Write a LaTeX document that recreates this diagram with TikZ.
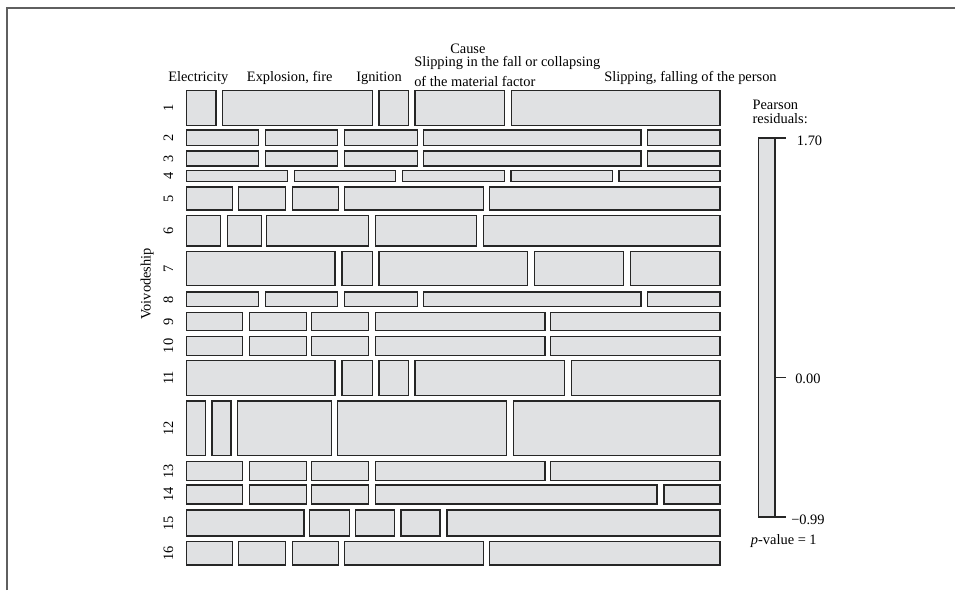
\documentclass[tikz,border=0pt]{standalone}
\usepackage{fontspec}
\setmainfont{Liberation Serif}
\usepackage{tikz}
\usetikzlibrary{positioning}
\definecolor{tilegray}{RGB}{224,225,227}
\definecolor{framegray}{RGB}{95,95,95}

\begin{document}
\begin{tikzpicture}[x=0.75pt,y=-0.75pt,font=\fontsize{10.8}{12}\selectfont]
\tikzstyle{tile}=[draw=black!85,fill=tilegray,line width=0.8pt]
\tikzstyle{lab}=[inner sep=0pt,anchor=base west]
\tikzstyle{rowlab}=[inner sep=0pt,anchor=base,rotate=90]
\tikzstyle{tick}=[draw=black!85,line width=0.8pt]
\useasboundingbox (0,0) rectangle (955,590);
\draw[framegray,line width=1pt] (7,590) -- (7,8) -- (955,8);
\foreach \ya/\yb/\cells in {
  90.7/125.7/{186.7/216,222.3/372.3,379/408.3,415/504.3,511.3/720},
  130/145.7/{186.7/258.7,265.3/337.3,344.3/417.3,423.3/641,647.7/720},
  151/166/{186.7/258.7,265.3/337.3,344.3/417.3,423.3/641,647.7/720},
  170.7/181.3/{186.7/287.7,294.3/395.7,402.3/504.3,511/612.3,619/720},
  187/210/{186.7/232.3,238.7/285.3,292.3/338.7,344.3/483.3,489.3/720},
  215.7/246/{186.7/220.7,227.3/261.3,266.7/368.7,375.3/476.7,483.3/720},
  251.7/285.7/{186.7/335,342/372.3,379/527.7,534.3/623.7,630.3/720},
  292/306.7/{186.7/258.7,265.3/337.3,344.3/417.3,423.3/641,647.7/720},
  312.3/330.7/{186.7/242.3,249.3/306.3,311.7/368.7,375.3/545,550.3/720},
  336.3/355.3/{186.7/242.3,249.3/306.3,311.7/368.7,375.3/545,550.3/720},
  360.7/395.3/{186.7/335,342/372.3,379/408.3,415/564.7,571.3/720},
  401/455.7/{186.7/205.3,212/231,237.3/331.7,337.3/506.7,513.3/720},
  461.7/480.7/{186.7/242.3,249.3/306.3,311.7/368.7,375.3/545,550.3/720},
  485/504/{186.7/242.3,249.3/306.3,311.7/368.7,375.3/657,664/720},
  510/536/{186.7/304,309.3/349.3,355.7/394.3,401/440,447/720},
  541.3/565/{186.7/232.3,238.7/285.3,292.3/338.7,344.3/483.3,489.3/720}}
  \foreach \xa/\xb in \cells
    \draw[tile] (\xa,\ya) rectangle (\xb,\yb);
\foreach \n/\y in {1/108.2,2/137.9,3/158.5,4/176,5/198.5,6/230.9,7/268.7,8/299.4,
  9/321.5,10/345.8,11/378,12/428.4,13/471.2,14/494.5,15/523,16/553.2}
  \node[rowlab] (row\n) at (173,\y) {\n};
\node[rowlab] (voiv) at (150.5,284) {Voivodeship};
\node[lab] (cause) at (450,53.3) {Cause};
\node[lab] (elec) at (168,81) {Electricity};
\node[lab] (expl) at (246.7,81) {Explosion, fire};
\node[lab] (ign) at (356,81) {Ignition};
\node[lab] (slipa) at (414,66) {Slipping in the fall or collapsing};
\node[lab] (slipb) at (414,86) {of the material factor};
\node[lab] (slipc) at (604,81) {Slipping, falling of the person};
\node[lab] (pears) at (752.3,109.3) {Pearson};
\node[lab] (resid) at (752.3,123.3) {residuals:};
\draw[tile] (758.7,138) rectangle (775,517);
\draw[tick] (758.7,138) -- (785.7,138);
\draw[tick] (775,377.5) -- (785.7,377.5);
\draw[tick] (758.7,517) -- (785.7,517);
\node[lab] (vmax) at (796.7,145.7) {1.70};
\node[lab] (vzero) at (795,383) {0.00};
\node[lab] (vmin) at (791,524.3) {−0.99};
\node[lab] (pval) at (750.7,544.3) {\textit{p}-value = 1};
\end{tikzpicture}
\end{document}
